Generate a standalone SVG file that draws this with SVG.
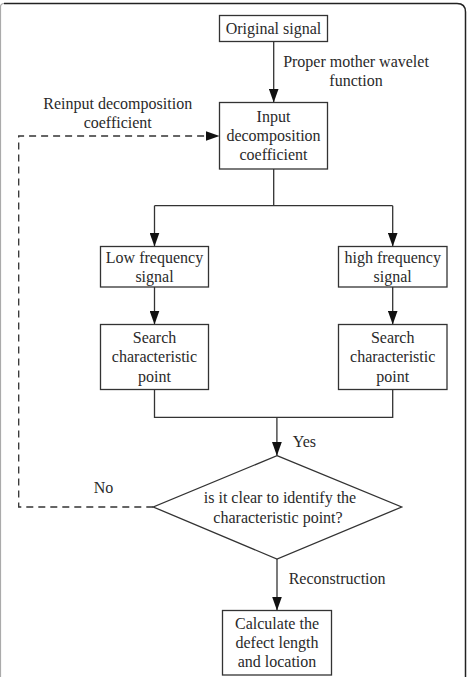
<svg xmlns="http://www.w3.org/2000/svg" width="467" height="677" viewBox="0 0 467 677">
<style>
  .box{fill:#fff;stroke:#333;stroke-width:1.3}
  .ln{fill:none;stroke:#333;stroke-width:1.3}
  .dash{fill:none;stroke:#333;stroke-width:1.3;stroke-dasharray:7 5}
  text{font-family:"Liberation Serif","Times New Roman",serif;font-size:16px;fill:#2a2a2a}
  .c{text-anchor:middle}
</style>
<defs>
  <marker id="arr" viewBox="0 0 14 10" refX="14" refY="5" markerWidth="14" markerHeight="10" markerUnits="userSpaceOnUse" orient="auto">
    <path d="M0,0 L14,5 L0,10 z" fill="#111"/>
  </marker>
</defs>
<rect x="0" y="0" width="467" height="677" fill="#fff"/>
<g id="frame">
  <path d="M0.5,690 V7 Q0.5,3.5 4,3.5" fill="none" stroke="#aaa" stroke-width="1.2"/>
  <path d="M4,3.5 H457 Q465.5,3.5 465.5,12 V690" fill="none" stroke="#222" stroke-width="1.5"/>
</g>
<g id="connectors">
  <path class="ln" d="M273.7,41.5 V102.5" marker-end="url(#arr)"/>
  <path class="ln" d="M273.7,169 V205.7 M154.5,205.7 H392.7"/>
  <path class="ln" d="M154.5,205.7 V246.5" marker-end="url(#arr)"/>
  <path class="ln" d="M392.7,205.7 V246.5" marker-end="url(#arr)"/>
  <path class="ln" d="M154.5,287 V324.5" marker-end="url(#arr)"/>
  <path class="ln" d="M392.7,287 V324.5" marker-end="url(#arr)"/>
  <path class="ln" d="M154.5,389.5 V417.3 H392.7 V389.5"/>
  <path class="ln" d="M276.9,417.3 V455.7" marker-end="url(#arr)"/>
  <path class="ln" d="M277,559 V610.5" marker-end="url(#arr)"/>
  <path class="dash" d="M153.3,507 H18.7 V136 H219.5" marker-end="url(#arr)"/>
  <text class="c" x="356" y="67">Proper mother wavelet</text>
  <text class="c" x="356" y="86">function</text>
  <text class="c" x="117.7" y="109">Reinput decomposition</text>
  <text class="c" x="117.7" y="128">coefficient</text>
  <text x="292.7" y="446.7">Yes</text>
  <text class="c" x="103.5" y="493.3">No</text>
  <text x="288.7" y="584">Reconstruction</text>
</g>
<g id="original">
  <rect class="box" x="219.5" y="15.5" width="108" height="26"/>
  <text class="c" x="273.5" y="34.3">Original signal</text>
</g>
<g id="input">
  <rect class="box" x="219.5" y="102.5" width="108" height="66.5"/>
  <text class="c" x="273.5" y="121.7">Input</text>
  <text class="c" x="273.5" y="140.5">decomposition</text>
  <text class="c" x="273.5" y="160">coefficient</text>
</g>
<g id="low">
  <rect class="box" x="100.5" y="246.5" width="108" height="40.5"/>
  <text class="c" x="154.5" y="263.3">Low frequency</text>
  <text class="c" x="154.5" y="281.7">signal</text>
</g>
<g id="high">
  <rect class="box" x="338.5" y="246.5" width="108.5" height="40.5"/>
  <text class="c" x="392.7" y="263.3">high frequency</text>
  <text class="c" x="392.7" y="281.7">signal</text>
</g>
<g id="search-low">
  <rect class="box" x="100.5" y="324.5" width="108" height="65"/>
  <text class="c" x="154.5" y="343.3">Search</text>
  <text class="c" x="154.5" y="362.3">characteristic</text>
  <text class="c" x="154.5" y="381.7">point</text>
</g>
<g id="search-high">
  <rect class="box" x="338.5" y="324.5" width="108.5" height="65"/>
  <text class="c" x="392.7" y="343.3">Search</text>
  <text class="c" x="392.7" y="362.3">characteristic</text>
  <text class="c" x="392.7" y="381.7">point</text>
</g>
<g id="decision">
  <polygon class="box" points="277,455.7 401.7,507 277,559 153.3,507"/>
  <text class="c" x="280" y="503.3">is it clear to identify the</text>
  <text class="c" x="278" y="522.7">characteristic point?</text>
</g>
<g id="calculate">
  <rect class="box" x="222.5" y="610.5" width="109" height="64.5"/>
  <text class="c" x="277" y="629">Calculate the</text>
  <text class="c" x="277" y="648">defect length</text>
  <text class="c" x="277" y="666.7">and location</text>
</g>
</svg>
